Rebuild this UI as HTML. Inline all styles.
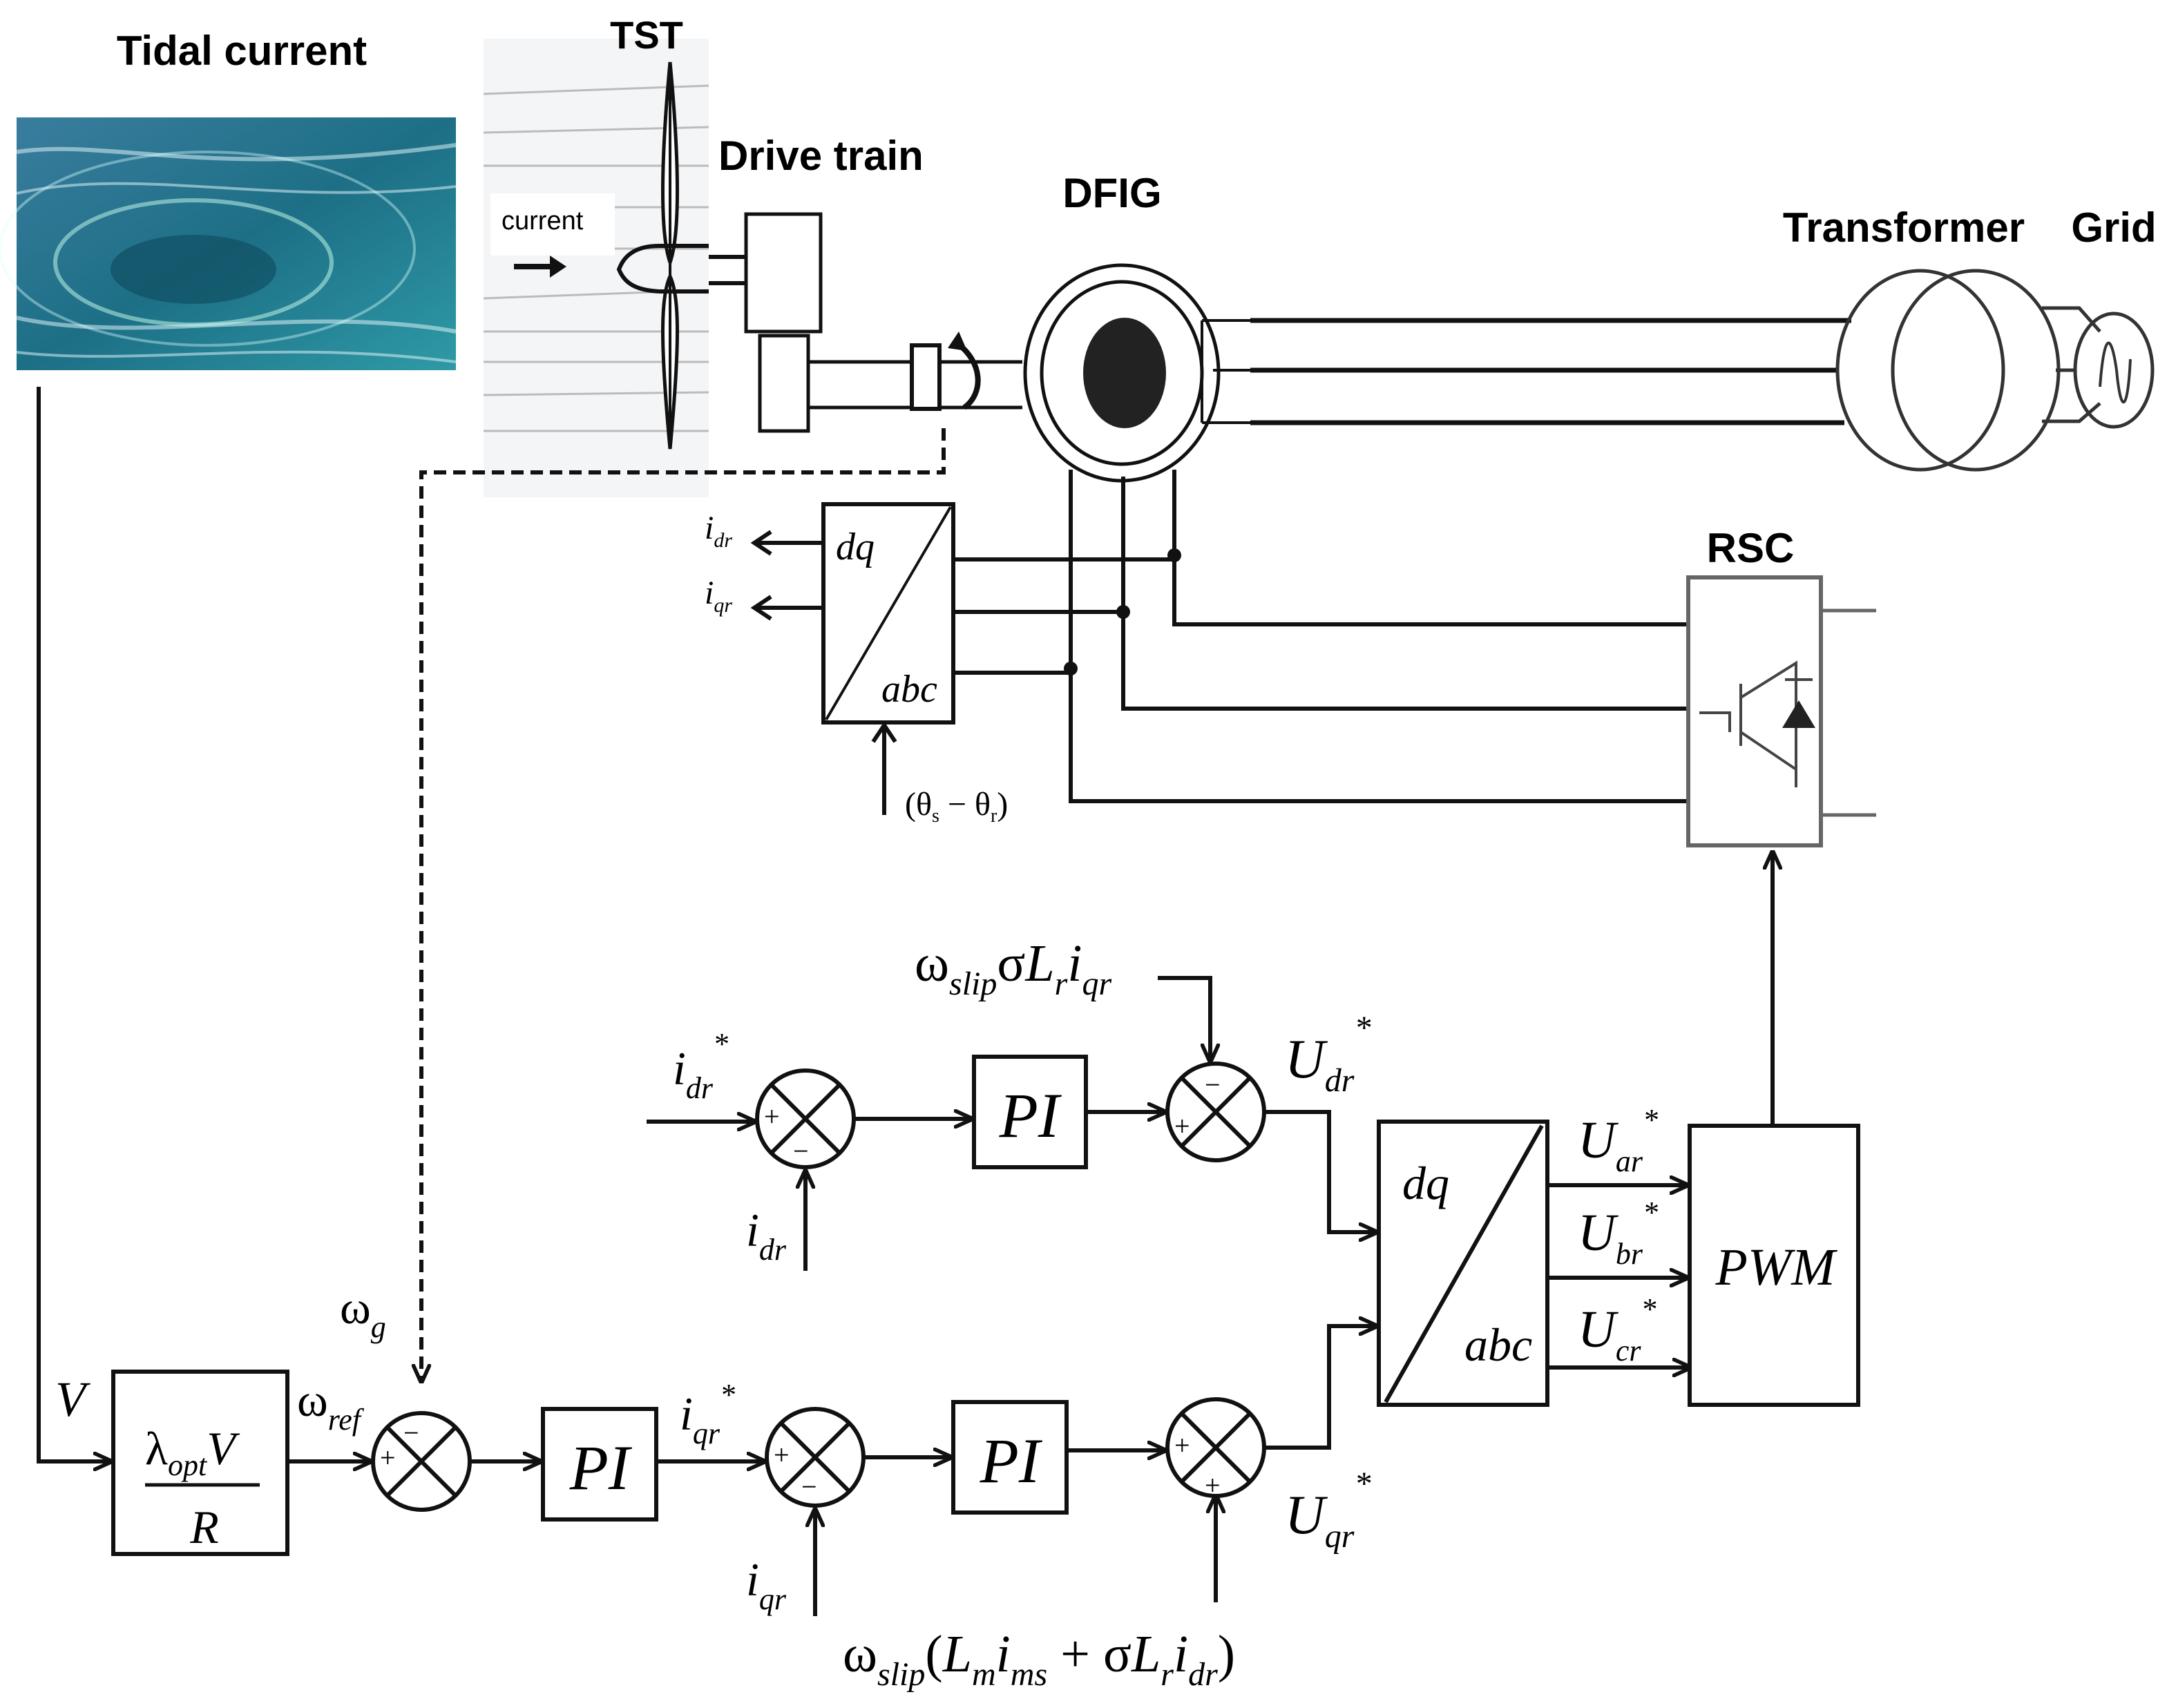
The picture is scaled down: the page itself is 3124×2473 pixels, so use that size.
<!DOCTYPE html>
<html><head><meta charset="utf-8"><style>
html,body{margin:0;padding:0;background:#fff;}
svg{display:block;}
.b{font-family:"Liberation Sans",sans-serif;font-weight:bold;}
.s{font-family:"Liberation Serif",serif;font-style:italic;}
.g{font-family:"Liberation Serif",serif;}
</style></head><body>
<svg width="3124" height="2473" viewBox="0 0 1562 1236.5" xmlns="http://www.w3.org/2000/svg">
<defs>
<marker id="a" viewBox="0 0 10 10" refX="9" refY="5" markerWidth="14" markerHeight="14" orient="auto" markerUnits="userSpaceOnUse"><path d="M0,0.5 L10,5 L0,9.5" fill="none" stroke="#111" stroke-width="2"/></marker>
<linearGradient id="w" x1="0" y1="0" x2="1" y2="1"><stop offset="0" stop-color="#3a7d9e"/><stop offset="0.5" stop-color="#1d6f86"/><stop offset="1" stop-color="#2e9aa6"/></linearGradient>
<g id="sum"><circle r="35" fill="#fff" stroke="#111" stroke-width="3"/><path d="M-25,-25 L25,25 M25,-25 L-25,25" stroke="#111" stroke-width="3"/></g>
</defs>
<rect width="1562" height="1236.5" fill="#fff"/>
<text x="175" y="47" class="b" font-size="30" text-anchor="middle">Tidal current</text>
<rect x="12" y="85" width="318" height="183" fill="url(#w)"/>
<g fill="none" stroke="#d8f0f4" opacity="0.55">
<path d="M12,110 C80,100 150,130 330,105" stroke-width="3"/>
<path d="M12,140 C100,120 200,150 330,135" stroke-width="2"/>
<path d="M12,230 C100,250 220,220 330,240" stroke-width="3"/>
<path d="M12,255 C100,265 200,245 330,262" stroke-width="2"/>
</g>
<ellipse cx="140" cy="195" rx="60" ry="25" fill="#0e4a5c" opacity="0.6"/>
<ellipse cx="140" cy="190" rx="100" ry="45" fill="none" stroke="#cfe" stroke-width="3" opacity="0.5"/>
<ellipse cx="150" cy="180" rx="150" ry="70" fill="none" stroke="#dff" stroke-width="2" opacity="0.4"/>
<!-- TST -->
<rect x="350" y="28" width="163" height="332" fill="#f4f5f6"/>
<g stroke="#bbb" stroke-width="1.5">
<line x1="350" y1="68" x2="513" y2="62"/><line x1="350" y1="96" x2="513" y2="92"/><line x1="350" y1="120" x2="513" y2="120"/>
<line x1="430" y1="150" x2="513" y2="150"/><line x1="430" y1="180" x2="513" y2="180"/><line x1="350" y1="216" x2="513" y2="210"/>
<line x1="350" y1="240" x2="513" y2="240"/><line x1="350" y1="262" x2="513" y2="262"/><line x1="350" y1="286" x2="513" y2="284"/><line x1="350" y1="312" x2="513" y2="312"/>
</g>
<rect x="355" y="140" width="90" height="45" fill="#fff"/>
<text x="363" y="166" font-family="Liberation Sans,sans-serif" font-size="19">current</text>
<text x="468" y="35" class="b" font-size="28" text-anchor="middle">TST</text>
<path d="M372,193 L400,193" stroke="#111" stroke-width="4"/><path d="M398,185 L410,193 L398,201Z" fill="#111"/>
<path d="M485,45 C478,120 478,170 485,190 C492,170 492,120 485,45Z M485,325 C478,250 478,215 485,200 C492,215 492,250 485,325Z" fill="#fff" stroke="#111" stroke-width="2.5"/>
<line x1="485" y1="45" x2="485" y2="325" stroke="#111" stroke-width="2"/>
<path d="M477,178 C455,178 450,190 448,195 C452,205 460,210 477,211" fill="none" stroke="#111" stroke-width="3"/>
<path d="M477,178 L513,178 M477,211 L513,211 M513,186 L540,186 M513,205 L540,205" stroke="#111" stroke-width="3"/>
<text x="520" y="123" class="b" font-size="30">Drive train</text>
<rect x="540" y="155" width="54" height="85" fill="#fff" stroke="#111" stroke-width="2.5"/>
<rect x="550" y="243" width="35" height="69" fill="#fff" stroke="#111" stroke-width="2.5"/>
<path d="M585,262 L740,262 M585,295 L740,295" stroke="#111" stroke-width="2.5"/>
<rect x="660" y="250" width="20" height="46" fill="#fff" stroke="#111" stroke-width="3"/>
<path d="M692,248 C712,262 712,285 698,295" fill="none" stroke="#111" stroke-width="4"/>
<path d="M686,252 L694,240 L700,254Z" fill="#111"/>
<!-- DFIG -->
<text x="805" y="150" class="b" font-size="30" text-anchor="middle">DFIG</text>
<ellipse cx="812" cy="270" rx="70" ry="78" fill="#fff" stroke="#111" stroke-width="2.5"/>
<ellipse cx="812" cy="270" rx="58" ry="66" fill="#fff" stroke="#111" stroke-width="2.5"/>
<ellipse cx="814" cy="270" rx="30" ry="40" fill="#222"/>
<path d="M870,232 L905,232 M878,268 L905,268 M870,306 L905,306 M870,232 L870,306" stroke="#111" stroke-width="2"/>
<path d="M905,232 L1340,232 M905,268 L1330,268 M905,306 L1335,306" stroke="#111" stroke-width="3.5"/>
<ellipse cx="1390" cy="268" rx="60" ry="72" fill="none" stroke="#333" stroke-width="2.5"/>
<ellipse cx="1430" cy="268" rx="60" ry="72" fill="none" stroke="#333" stroke-width="2.5"/>
<ellipse cx="1530" cy="268" rx="28" ry="41" fill="none" stroke="#333" stroke-width="2.5"/>
<path d="M1478,223 L1505,223 L1520,240 M1488,268 L1502,268 M1478,305 L1505,305 L1520,292" fill="none" stroke="#333" stroke-width="2.5"/>
<path d="M1520,280 C1523,240 1528,240 1532,268 C1535,300 1540,300 1542,260" fill="none" stroke="#333" stroke-width="2"/>
<text x="1378" y="175" class="b" font-size="30" text-anchor="middle">Transformer</text>
<text x="1530" y="175" class="b" font-size="30" text-anchor="middle">Grid</text>
<!-- rotor lines -->
<g fill="none" stroke="#111" stroke-width="3">
<path d="M775,340 L775,580 L1222,580"/>
<path d="M813,345 L813,513 L1222,513"/>
<path d="M850,340 L850,452 L1222,452"/>
<path d="M690,405 L850,405 M690,443 L813,443 M690,487 L775,487"/>
</g>
<circle cx="850" cy="402" r="5" fill="#111"/><circle cx="813" cy="443" r="5" fill="#111"/><circle cx="775" cy="484" r="5" fill="#111"/>
<rect x="596" y="365" width="94" height="158" fill="#fff" stroke="#111" stroke-width="3"/>
<line x1="598" y1="521" x2="688" y2="367" stroke="#111" stroke-width="2"/>
<text x="605" y="405" class="s" font-size="28">dq</text>
<text x="638" y="508" class="s" font-size="28">abc</text>
<g fill="none" stroke="#111" stroke-width="3">
<path d="M596,393 L546,393 M596,440 L546,440 M640,590 L640,525"/>
<path d="M558,385 L546,393 L558,401 M558,432 L546,440 L558,448 M632,537 L640,525 L648,537"/>
</g>
<text x="510" y="390" class="s" font-size="24">i<tspan font-size="15" dy="6">dr</tspan></text>
<text x="510" y="437" class="s" font-size="24">i<tspan font-size="15" dy="6">qr</tspan></text>
<text x="655" y="590" class="g" font-size="24">(θ<tspan font-size="14" dy="5">s</tspan><tspan dy="-5"> − θ</tspan><tspan font-size="14" dy="5">r</tspan><tspan dy="-5">)</tspan></text>
<!-- RSC -->
<text x="1267" y="407" class="b" font-size="30" text-anchor="middle">RSC</text>
<rect x="1222" y="418" width="96" height="194" fill="#fff" stroke="#666" stroke-width="3"/>
<path d="M1318,442 L1358,442 M1318,590 L1358,590" stroke="#666" stroke-width="2.5"/>
<g stroke="#444" stroke-width="2" fill="none">
<path d="M1230,516 L1252,516 L1252,530 M1260,495 L1260,540 M1260,505 L1300,480 L1300,570 M1260,530 L1300,557"/>
<path d="M1292,492 L1312,492"/>
</g>
<path d="M1290,527 L1314,527 L1302,507Z" fill="#222"/>
<!-- dashed -->
<path d="M683,310 L683,342 L305,342 L305,1000" fill="none" stroke="#111" stroke-width="3" stroke-dasharray="9,5" marker-end="url(#a)"/>
<!-- bottom loop -->
<g fill="none" stroke="#111" stroke-width="3" marker-end="url(#a)">
<path d="M28,280 L28,1058 L80,1058"/>
<path d="M208,1058 L268,1058"/>
<path d="M340,1058 L391,1058"/>
<path d="M475,1058 L553,1058"/>
<path d="M625,1055 L688,1055"/>
<path d="M772,1050 L843,1050"/>
<path d="M590,1170 L590,1093"/>
<path d="M880,1160 L880,1083"/>
<path d="M468,812 L546,812"/>
<path d="M618,810 L703,810"/>
<path d="M786,805 L843,805"/>
<path d="M583,920 L583,848"/>
<path d="M838,708 L876,708 L876,768"/>
<path d="M915,805 L962,805 L962,892 L996,892"/>
<path d="M915,1048 L962,1048 L962,960 L996,960"/>
<path d="M1120,858 L1221,858"/>
<path d="M1120,925 L1221,925"/>
<path d="M1120,990 L1223,990"/>
<path d="M1283,815 L1283,617"/>
</g>
<rect x="82" y="993" width="126" height="132" fill="#fff" stroke="#111" stroke-width="3"/>
<line x1="105" y1="1075" x2="188" y2="1075" stroke="#111" stroke-width="2.5"/>
<text x="105" y="1060" class="g" font-size="34">λ<tspan class="s" font-size="22" dy="8">opt</tspan><tspan class="s" dy="-8">V</tspan></text>
<text x="148" y="1117" class="s" font-size="34" text-anchor="middle">R</text>
<use href="#sum" x="305" y="1058"/>
<use href="#sum" x="590" y="1055"/>
<use href="#sum" x="880" y="1048"/>
<use href="#sum" x="583" y="810"/>
<use href="#sum" x="880" y="805"/>
<g class="g" font-size="20">
<text x="275" y="1062">+</text><text x="292" y="1044">−</text>
<text x="560" y="1060">+</text><text x="580" y="1083">−</text>
<text x="850" y="1053">+</text><text x="872" y="1082">+</text>
<text x="553" y="815">+</text><text x="574" y="840">−</text>
<text x="872" y="792">−</text><text x="850" y="822">+</text>
</g>
<rect x="393" y="1020" width="82" height="80" fill="#fff" stroke="#111" stroke-width="3"/>
<text x="434" y="1078" class="s" font-size="46" text-anchor="middle">PI</text>
<rect x="690" y="1015" width="82" height="80" fill="#fff" stroke="#111" stroke-width="3"/>
<text x="731" y="1073" class="s" font-size="46" text-anchor="middle">PI</text>
<rect x="705" y="765" width="81" height="80" fill="#fff" stroke="#111" stroke-width="3"/>
<text x="745" y="823" class="s" font-size="46" text-anchor="middle">PI</text>
<rect x="998" y="812" width="122" height="205" fill="#fff" stroke="#111" stroke-width="3"/>
<line x1="1003" y1="1015" x2="1116" y2="815" stroke="#111" stroke-width="3"/>
<text x="1015" y="868" class="s" font-size="34">dq</text>
<text x="1060" y="985" class="s" font-size="34">abc</text>
<rect x="1223" y="815" width="122" height="202" fill="#fff" stroke="#111" stroke-width="3"/>
<text x="1285" y="930" class="s" font-size="38" text-anchor="middle">PWM</text>
<!-- labels -->
<text x="40" y="1025" class="s" font-size="36">V</text>
<text x="246" y="958" class="g" font-size="34">ω<tspan class="s" font-size="22" dy="10">g</tspan></text>
<text x="215" y="1025" class="g" font-size="34">ω<tspan class="s" font-size="22" dy="10">ref</tspan></text>
<text x="492" y="1035" class="s" font-size="34">i<tspan font-size="22" dy="10">qr</tspan><tspan font-size="22" dy="-28">*</tspan></text>
<text x="540" y="1155" class="s" font-size="34">i<tspan font-size="22" dy="10">qr</tspan></text>
<text x="540" y="902" class="s" font-size="34">i<tspan font-size="22" dy="10">dr</tspan></text>
<text x="487" y="785" class="s" font-size="34">i<tspan font-size="22" dy="10">dr</tspan><tspan font-size="22" dy="-32">*</tspan></text>
<text x="662" y="710" class="g" font-size="38">ω<tspan class="s" font-size="24" dy="10">slip</tspan><tspan dy="-10">σ</tspan><tspan class="s">L</tspan><tspan class="s" font-size="24" dy="10">r</tspan><tspan class="s" dy="-10">i</tspan><tspan class="s" font-size="24" dy="10">qr</tspan></text>
<text x="610" y="1210" class="g" font-size="38">ω<tspan class="s" font-size="24" dy="10">slip</tspan><tspan dy="-10">(</tspan><tspan class="s">L</tspan><tspan class="s" font-size="24" dy="10">m</tspan><tspan class="s" dy="-10">i</tspan><tspan class="s" font-size="24" dy="10">ms</tspan><tspan dy="-10"> + σ</tspan><tspan class="s">L</tspan><tspan class="s" font-size="24" dy="10">r</tspan><tspan class="s" dy="-10">i</tspan><tspan class="s" font-size="24" dy="10">dr</tspan><tspan dy="-10">)</tspan></text>
<text x="930" y="780" class="s" font-size="40">U<tspan font-size="24" dy="10">dr</tspan><tspan font-size="24" dy="-38">*</tspan></text>
<text x="930" y="1110" class="s" font-size="40">U<tspan font-size="24" dy="10">qr</tspan><tspan font-size="24" dy="-38">*</tspan></text>
<text x="1142" y="838" class="s" font-size="38">U<tspan font-size="22" dy="10">ar</tspan><tspan font-size="22" dy="-30">*</tspan></text>
<text x="1142" y="905" class="s" font-size="38">U<tspan font-size="22" dy="10">br</tspan><tspan font-size="22" dy="-30">*</tspan></text>
<text x="1142" y="975" class="s" font-size="38">U<tspan font-size="22" dy="10">cr</tspan><tspan font-size="22" dy="-30">*</tspan></text>
</svg>
</body></html>
